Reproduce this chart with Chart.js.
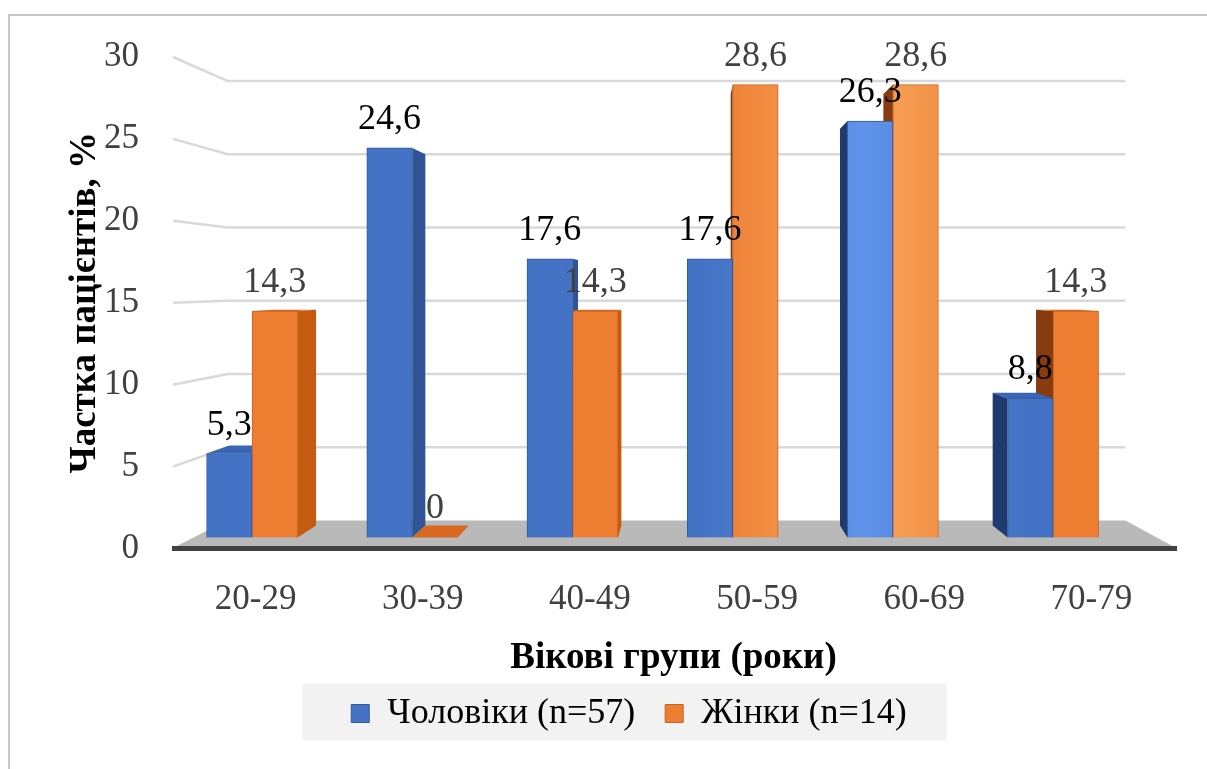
<!DOCTYPE html>
<html>
<head>
<meta charset="utf-8">
<script src="https://cdn.jsdelivr.net/npm/chart.js@4.4.1/dist/chart.umd.min.js"></script>
<style>
  html, body { margin: 0; padding: 0; background: #ffffff; }
  #c { display: block; }
</style>
</head>
<body>
<canvas id="c" width="1207" height="769"></canvas>
<script>
// ---- data ----
const categories = ['20-29', '30-39', '40-49', '50-59', '60-69', '70-79'];
const menShare = [5.3, 24.6, 17.6, 17.6, 26.3, 8.8];
const womenShare = [14.3, 0, 14.3, 28.6, 28.6, 14.3];
const seriesNames = ['Чоловіки (n=57)', 'Жінки (n=14)'];
const valueTicks = [0, 5, 10, 15, 20, 25, 30];
const axisTitleX = 'Вікові групи (роки)';
const axisTitleY = 'Частка пацієнтів, %';

// ---- look ----
const SERIF = '"Liberation Serif", "Times New Roman", serif';
Chart.defaults.font.family = SERIF;
const palette = [
  { base: '#4472c4', light: '#5f93ea', edge: '#30589f', sideLit: '#2f5597', sideShade: '#1f3a6e', top: '#3a64b4', label: '#000000' },
  { base: '#ed7d31', light: '#f8a55c', edge: '#c96420', sideLit: '#c55a11', sideShade: '#863c0e', top: '#d8691f', label: '#404040' }
];

// Simple perspective: everything recedes toward an eye point.
// eyeX is in pixels, eyeLevel in value units of the front axis.
const view3d = { eyeX: 690, eyeLevel: 16.15, wallDepth: 0.894, barDepth: 0.953 };

function toward(px, py, vx, vy, k) {
  return [vx + (px - vx) * k, vy + (py - vy) * k];
}

function quad(ctx, pts, fill) {
  ctx.beginPath();
  ctx.moveTo(pts[0][0], pts[0][1]);
  for (let i = 1; i < pts.length; i++) ctx.lineTo(pts[i][0], pts[i][1]);
  ctx.closePath();
  ctx.fillStyle = fill;
  ctx.fill();
}

function fmt(v) { return String(v).replace('.', ','); }

const gradCache = {};
function frontFill(c, idx) {
  const chart = c.chart;
  const area = chart.chartArea;
  const p = palette[idx];
  if (!area) return p.base;
  const key = idx + ':' + area.left + ':' + area.right;
  if (gradCache[key]) return gradCache[key];
  const g = chart.ctx.createLinearGradient(area.left, 0, area.right, 0);
  g.addColorStop(0, p.base);
  g.addColorStop(0.53, p.base);
  g.addColorStop(0.69, p.light);
  g.addColorStop(0.85, p.base);
  g.addColorStop(1, p.base);
  gradCache[key] = g;
  return g;
}

// Walls, floor, bar depth and value labels.
const scene3d = {
  id: 'scene3d',
  beforeDraw(chart) {
    const { ctx, chartArea: area } = chart;
    const y = chart.scales.y;
    const vx = view3d.eyeX, vy = y.getPixelForValue(view3d.eyeLevel);
    const k = view3d.wallDepth;
    ctx.save();

    // outer frame
    ctx.strokeStyle = '#c6c6c6';
    ctx.lineWidth = 2;
    ctx.strokeRect(9, 15, chart.width + 40, chart.height + 40);

    // legend panel
    const hb = chart.legend && chart.legend.legendHitBoxes;
    if (hb && hb.length) {
      const first = hb[0], last = hb[hb.length - 1];
      const mid = first.top + first.height / 2;
      ctx.fillStyle = '#f2f2f2';
      ctx.fillRect(first.left - 49, mid - 30, (last.left + last.width + 40) - (first.left - 49), 57);
    }

    // floor
    const fl = area.left, fr = area.right + 2, fy = area.bottom;
    const bl = toward(fl, fy, vx, vy, k), br = toward(fr, fy, vx, vy, k);
    quad(ctx, [[fl, fy], [fr, fy], br, bl], '#b9b9b9');

    // gridlines on side and back walls
    ctx.strokeStyle = '#d9d9d9';
    ctx.lineWidth = 2.5;
    ctx.lineJoin = 'round';
    valueTicks.forEach(v => {
      if (v === 0) return;
      const py = y.getPixelForValue(v);
      const b = toward(fl + 1, py, vx, vy, k);
      const e = toward(fr, py, vx, vy, k);
      ctx.beginPath();
      ctx.moveTo(fl + 1, py);
      ctx.lineTo(b[0], b[1]);
      ctx.lineTo(e[0], b[1]);
      ctx.stroke();
    });
    ctx.restore();
  },
  beforeDatasetsDraw(chart) {
    const { ctx, chartArea: area } = chart;
    const y = chart.scales.y;
    const vx = view3d.eyeX, vy = y.getPixelForValue(view3d.eyeLevel);
    const k = view3d.barDepth;
    const boxes = [];
    chart.data.datasets.forEach((ds, di) => {
      chart.getDatasetMeta(di).data.forEach(bar => {
        const { x, y: top, base, width } = bar.getProps(['x', 'y', 'base', 'width'], true);
        boxes.push({ di, left: x - width / 2, right: x + width / 2, top, base, dist: Math.abs(x - vx) });
      });
    });
    boxes.sort((a, b) => b.dist - a.dist);
    ctx.save();
    for (const b of boxes) {
      const p = palette[b.di];
      if (b.right < vx) {
        quad(ctx, [[b.right, b.top], [b.right, b.base], toward(b.right, b.base, vx, vy, k), toward(b.right, b.top, vx, vy, k)], p.sideLit);
      } else if (b.left > vx) {
        quad(ctx, [[b.left, b.top], [b.left, b.base], toward(b.left, b.base, vx, vy, k), toward(b.left, b.top, vx, vy, k)], p.sideShade);
      }
      if (b.top > vy) {
        quad(ctx, [[b.left, b.top], [b.right, b.top], toward(b.right, b.top, vx, vy, k), toward(b.left, b.top, vx, vy, k)], p.top);
      }
    }
    // front edge of the floor
    ctx.strokeStyle = '#404040';
    ctx.lineWidth = 5;
    ctx.beginPath();
    ctx.moveTo(area.left, area.bottom);
    ctx.lineTo(area.right + 2, area.bottom);
    ctx.stroke();
    ctx.restore();
  },
  afterDatasetsDraw(chart) {
    const { ctx } = chart;
    ctx.save();
    ctx.font = '36px ' + SERIF;
    ctx.textAlign = 'center';
    ctx.textBaseline = 'alphabetic';
    chart.data.datasets.forEach((ds, di) => {
      chart.getDatasetMeta(di).data.forEach((bar, i) => {
        ctx.fillStyle = palette[di].label;
        ctx.fillText(fmt(ds.data[i].y), bar.x, bar.y - 19);
      });
    });
    ctx.restore();
  }
};

new Chart(document.getElementById('c'), {
  type: 'bar',
  data: {
    labels: categories,
    datasets: [
      {
        label: seriesNames[0],
        data: menShare.map((v, i) => ({ x: i, y: v })),
        xAxisID: 'xb', yAxisID: 'yb',
        backgroundColor: c => frontFill(c, 0),
        borderColor: palette[0].edge, borderWidth: 1
      },
      {
        label: seriesNames[1],
        data: womenShare.map((v, i) => ({ x: i, y: v })),
        xAxisID: 'xb', yAxisID: 'yb',
        backgroundColor: c => frontFill(c, 1),
        borderColor: palette[1].edge, borderWidth: 1
      }
    ]
  },
  options: {
    responsive: false,
    animation: false,
    devicePixelRatio: 1,
    barThickness: 45.5,
    layout: { padding: { left: 83, right: 32, top: 57, bottom: 27.5 } },
    scales: {
      x: {
        type: 'category',
        position: 'bottom',
        grid: { display: false },
        border: { display: false },
        ticks: { color: '#404040', font: { family: SERIF, size: 35 }, padding: 22, maxRotation: 0, autoSkip: false },
        title: { display: true, text: axisTitleX, color: '#000000', font: { family: SERIF, size: 37, weight: 'bold', lineHeight: 0.4 }, padding: 0 },
        afterFit: s => { s.height = 117; }
      },
      y: {
        type: 'linear',
        position: 'left',
        min: valueTicks[0],
        max: valueTicks[valueTicks.length - 1],
        grid: { display: false },
        border: { display: false },
        ticks: { stepSize: 5, color: '#404040', font: { family: SERIF, size: 35 }, padding: 25 },
        title: { display: true, text: axisTitleY, color: '#000000', font: { family: SERIF, size: 37, weight: 'bold', lineHeight: 1.2 }, padding: { top: -20, bottom: 0 } },
        afterFit: s => { s.width = 89; }
      },
      // the bar row stands a little behind the front edge of the floor
      xb: { type: 'linear', display: false, offset: false, min: -0.5, max: 5.761 },
      yb: { type: 'linear', display: false, min: -0.695, max: 30.34 }
    },
    plugins: {
      legend: {
        position: 'bottom',
        labels: {
          font: { family: SERIF, size: 36 },
          color: '#000000',
          boxWidth: 18,
          boxHeight: 18,
          padding: 30,
          generateLabels: chart => Chart.defaults.plugins.legend.labels.generateLabels(chart).map((l, i) => Object.assign(l, {
            fillStyle: palette[i].base, strokeStyle: palette[i].edge, lineWidth: 1
          }))
        }
      },
      tooltip: { enabled: false }
    }
  },
  plugins: [scene3d]
});
</script>
</body>
</html>
